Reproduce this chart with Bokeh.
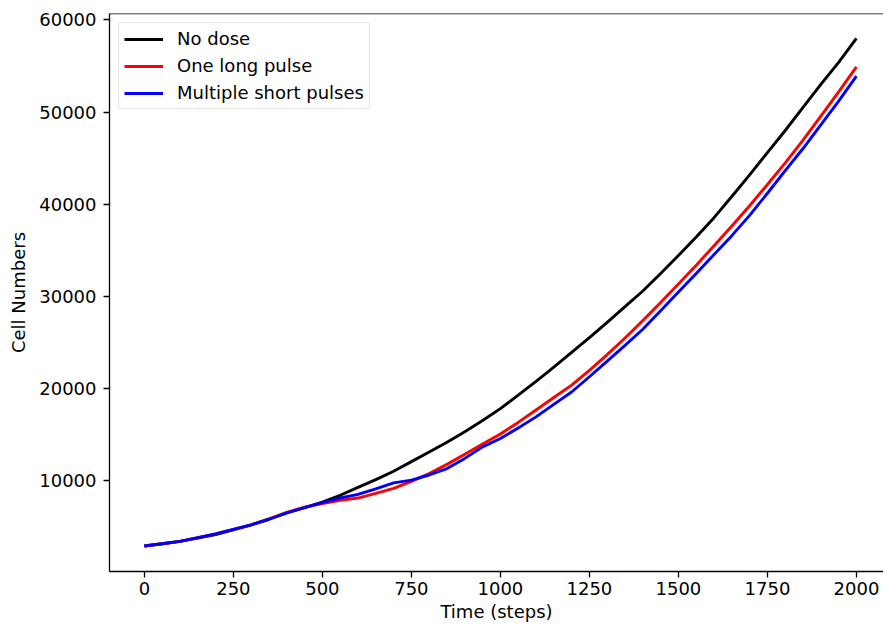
from bokeh.plotting import figure
from bokeh.models import Range1d, FixedTicker, Span, Legend, LegendItem
from bokeh.embed import file_html
from bokeh.resources import INLINE

steps = [0, 50, 100, 150, 200, 250, 300, 350, 400, 450, 500, 550, 600, 650, 700,
         750, 800, 850, 900, 950, 1000, 1050, 1100, 1150, 1200, 1250, 1300, 1350,
         1400, 1450, 1500, 1550, 1600, 1650, 1700, 1750, 1800, 1850, 1900, 1950, 2000]

no_dose = [2950, 3200, 3450, 3800, 4200, 4700, 5250, 5850, 6550, 7100, 7700, 8450,
           9300, 10150, 11050, 12100, 13150, 14200, 15350, 16550, 17850, 19300,
           20800, 22350, 23950, 25550, 27200, 28900, 30600, 32500, 34450, 36450,
           38550, 40850, 43200, 45600, 48000, 50500, 53000, 55400, 58000]

one_long = [2950, 3200, 3450, 3850, 4250, 4750, 5250, 5900, 6600, 7150, 7550, 7900,
            8150, 8650, 9200, 9950, 10800, 11800, 12900, 14000, 15100, 16350,
            17700, 19050, 20400, 22000, 23700, 25500, 27400, 29350, 31350, 33400,
            35500, 37650, 39850, 42150, 44500, 46950, 49550, 52200, 54900]

multi_short = [2950, 3200, 3450, 3850, 4250, 4750, 5250, 5850, 6550, 7100, 7650, 8150,
               8550, 9150, 9800, 10100, 10650, 11350, 12450, 13700, 14600, 15750,
               16950, 18300, 19650, 21300, 23000, 24700, 26450, 28450, 30500, 32500,
               34550, 36600, 38800, 41200, 43650, 46050, 48600, 51200, 53900]

x_ticks = [0, 250, 500, 750, 1000, 1250, 1500, 1750, 2000]
y_ticks = [10000, 20000, 30000, 40000, 50000, 60000]

series_names = ["No dose", "One long pulse", "Multiple short pulses"]
series_colors = ["black", "red", "blue"]

FONT = "DejaVu Sans"
FS = "18px"

p = figure(width=883, height=629, output_backend="svg", toolbar_location=None,
           x_range=Range1d(-98, 2076), y_range=Range1d(185, 60690),
           min_border_left=109, min_border_right=0, min_border_top=13,
           min_border_bottom=58)
p.grid.visible = False
p.outline_line_color = None
p.background_fill_color = "white"
p.border_fill_color = "white"

items = []
for name, col, data in zip(series_names, series_colors, [no_dose, one_long, multi_short]):
    r = p.line(steps, data, line_color=col, line_width=2.9, line_join="round")
    items.append(LegendItem(label=name, renderers=[r]))

top = Span(location=60690, dimension="width", line_color="black", line_width=1.3)
p.add_layout(top)

for ax in (p.xaxis[0], p.yaxis[0]):
    ax.axis_line_color = "black"
    ax.axis_line_width = 1.3
    ax.major_tick_line_color = "black"
    ax.major_tick_line_width = 1.3
    ax.major_tick_in = 0
    ax.major_tick_out = 6
    ax.minor_tick_line_color = None
    ax.major_label_text_font = FONT
    ax.major_label_text_font_size = FS
    ax.major_label_text_color = "black"
    ax.axis_label_text_font = FONT
    ax.axis_label_text_font_size = FS
    ax.axis_label_text_font_style = "normal"
    ax.axis_label_text_color = "black"

p.xaxis.ticker = FixedTicker(ticks=x_ticks)
p.yaxis.ticker = FixedTicker(ticks=y_ticks)
p.xaxis.axis_label = "Time (steps)"
p.yaxis.axis_label = "Cell Numbers"
p.xaxis.major_label_standoff = 4
p.xaxis.axis_label_standoff = 3
p.yaxis.major_label_standoff = 7
p.yaxis.axis_label_standoff = 7

legend = Legend(items=items, location="top_left")
legend.margin = 9
legend.padding = 5
legend.spacing = 6
legend.glyph_width = 39
legend.glyph_height = 20
legend.label_height = 20
legend.label_standoff = 14
legend.label_text_font = FONT
legend.label_text_font_size = FS
legend.label_text_color = "black"
legend.border_line_color = "#cccccc"
legend.border_line_width = 1
legend.border_radius = 4
legend.background_fill_color = "white"
legend.background_fill_alpha = 0.8
p.add_layout(legend)

open("out.html", "w").write(file_html(p, INLINE))
